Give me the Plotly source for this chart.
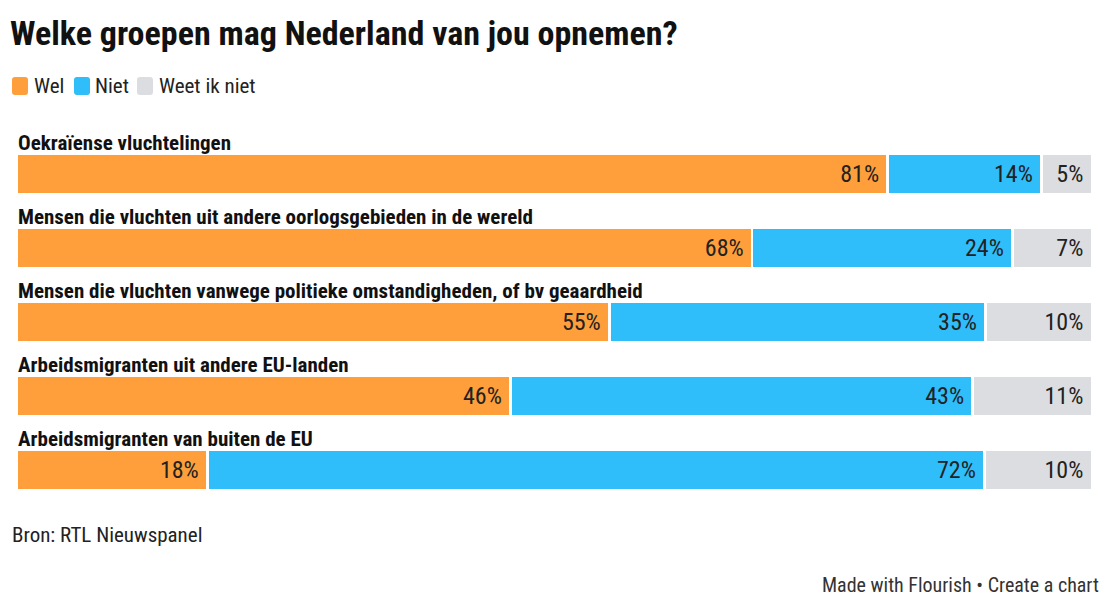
import plotly.graph_objects as go

categories = [
    "Oekraïense vluchtelingen",
    "Mensen die vluchten uit andere oorlogsgebieden in de wereld",
    "Mensen die vluchten vanwege politieke omstandigheden, of bv geaardheid",
    "Arbeidsmigranten uit andere EU-landen",
    "Arbeidsmigranten van buiten de EU",
]
series_names = ["Wel", "Niet", "Weet ik niet"]
wel = [81.0, 68.4, 55.1, 45.9, 17.7]
niet = [14.3, 24.2, 35.0, 43.0, 72.3]
weet = [4.7, 7.4, 9.9, 11.1, 10.0]
colors = ["#FF9F3B", "#2FBEFA", "#DCDDE1"]

FONT = "Roboto Condensed, Liberation Sans Narrow, DejaVu Sans Condensed, Roboto, sans-serif"
NBSP = "\u00a0"

# page offset of the plot div (body margin) and figure geometry
OFF = 8
W, H = 1110 - OFF, 609 - OFF
ML, MR, MT, MB = 17 - OFF, 18, 137 - OFF, 102
PW, PH = W - ML - MR, H - MT - MB


def px(X):
    return (X - OFF - ML) / PW


def py(Y):
    return (H - MB - (Y - OFF)) / PH


fig = go.Figure()
for name, vals, col in zip(series_names, [wel, niet, weet], colors):
    fig.add_trace(go.Bar(
        y=categories, x=vals, name=name, orientation="h",
        marker=dict(color=col, line=dict(color="white", width=2.5)),
        texttemplate="%{x:.0f}%" + NBSP, textposition="inside", insidetextanchor="end",
        textfont=dict(family=FONT, size=24, color="#222222"),
        constraintext="none",
        width=0.535, cliponaxis=False, showlegend=False,
    ))

for cat in categories:
    fig.add_annotation(
        x=0, y=cat, xref="x", yref="y", text="<b>" + cat + "</b>",
        showarrow=False, xanchor="left", yanchor="middle", yshift=31, xshift=-1,
        font=dict(family=FONT, size=21, color="#111111"),
    )

# legend drawn as rounded swatches + labels
swatch_x = [12, 74, 137]
label_x = [32, 93, 157]


def rounded(x0, y0, x1, y1, r=3):
    X0, X1 = px(x0), px(x1)
    Y0, Y1 = py(y0), py(y1)  # Y0 top (larger), Y1 bottom
    rx, ry = r / PW, r / PH
    return (f"M{X0+rx},{Y0} L{X1-rx},{Y0} Q{X1},{Y0} {X1},{Y0-ry} "
            f"L{X1},{Y1+ry} Q{X1},{Y1} {X1-rx},{Y1} L{X0+rx},{Y1} "
            f"Q{X0},{Y1} {X0},{Y1+ry} L{X0},{Y0-ry} Q{X0},{Y0} {X0+rx},{Y0} Z")


for name, col, sx, lx in zip(series_names, colors, swatch_x, label_x):
    fig.add_shape(type="path", xref="paper", yref="paper",
                  path=rounded(sx, 77, sx + 16, 95), fillcolor=col, line=dict(width=0))
    fig.add_annotation(x=px(lx), y=py(86), xref="paper", yref="paper", text=name,
                       showarrow=False, xanchor="left", yanchor="middle",
                       font=dict(family=FONT, size=21, color="#222222"))

fig.add_annotation(
    x=px(10), y=py(535), xref="paper", yref="paper", text="Bron: RTL Nieuwspanel",
    showarrow=False, xanchor="left", yanchor="middle",
    font=dict(family=FONT, size=21, color="#222222"),
)
fig.add_annotation(
    x=px(1101), y=py(585), xref="paper", yref="paper",
    text="Made with Flourish • Create a chart", showarrow=False,
    xanchor="right", yanchor="middle",
    font=dict(family=FONT, size=20, color="#333333"),
)

fig.update_layout(
    width=W, height=H,
    barmode="stack",
    paper_bgcolor="white", plot_bgcolor="white",
    margin=dict(l=ML, r=MR, t=MT, b=MB),
    title=dict(text="<b>Welke groepen mag Nederland van jou opnemen?</b>",
               xref="container", yref="container",
               x=(10 - OFF) / W, xanchor="left", y=1 - (33 - OFF) / H, yanchor="middle",
               font=dict(family=FONT, size=34, color="#111111")),
    xaxis=dict(range=[0, 100.01], visible=False, fixedrange=True),
    yaxis=dict(range=[len(categories) - 0.5, -0.5], visible=False, fixedrange=True),
    showlegend=False,
    font=dict(family=FONT),
)

fig.write_html("out.html")
